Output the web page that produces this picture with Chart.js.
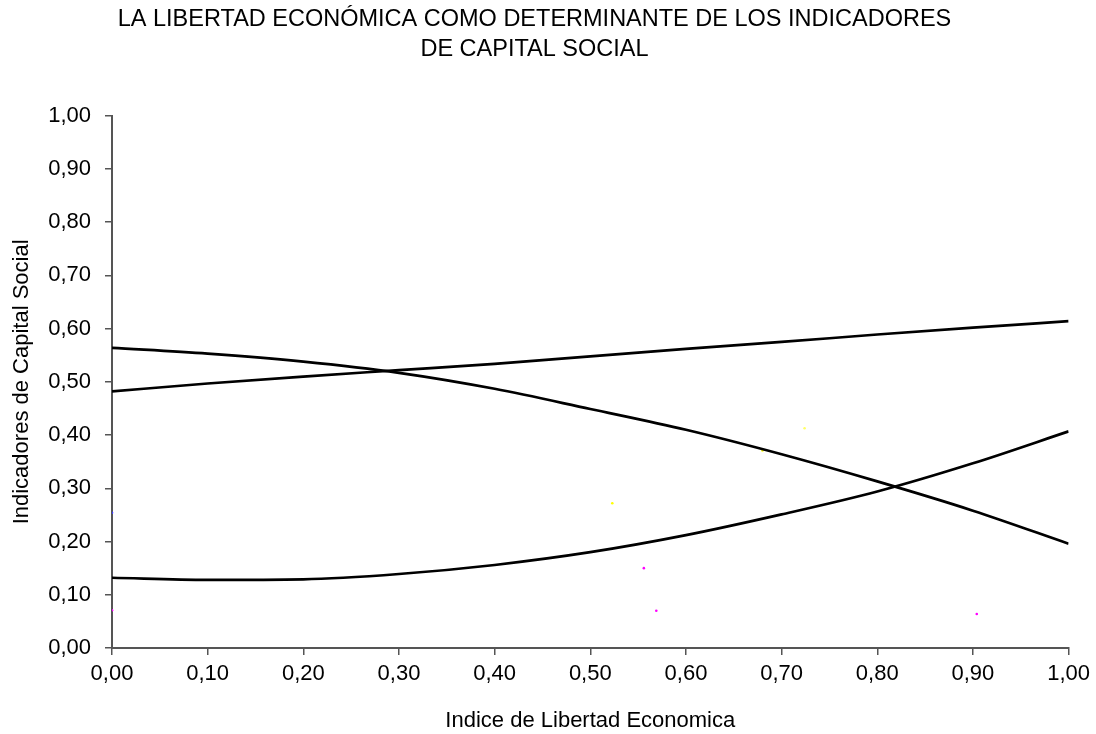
<!DOCTYPE html>
<html lang="es">
<head>
<meta charset="UTF-8">
<title>Libertad económica y capital social</title>
<script src="https://cdn.jsdelivr.net/npm/chart.js@4.4.0/dist/chart.umd.min.js"></script>
<style>
  html, body { margin: 0; padding: 0; background: #fff; }
  #wrap { width: 1096px; height: 734px; position: relative; }
</style>
</head>
<body>
<div id="wrap"><canvas id="chart"></canvas></div>
<script>
// Indice de Libertad Economica (eje x)
const xValues = [0, 0.1, 0.2, 0.3, 0.4, 0.5, 0.6, 0.7, 0.8, 0.9, 1.0];

// curvas de ajuste
const curvaAscendente = [0.482, 0.497, 0.510, 0.522, 0.534, 0.548, 0.562, 0.575, 0.589, 0.602, 0.614];
const curvaDescendente = [0.564, 0.553, 0.538, 0.517, 0.487, 0.449, 0.410, 0.364, 0.313, 0.258, 0.196];
const curvaInferior = [0.132, 0.128, 0.129, 0.139, 0.156, 0.180, 0.212, 0.251, 0.294, 0.347, 0.407];

// puntitos de color casi invisibles
const puntosX = [0.680, 0.523, 0.724, 0.556, 0.569, 0.904, 0.000, 0.000];
const puntosY = [0.371, 0.272, 0.413, 0.150, 0.070, 0.064, 0.254, 0.071];
const puntosColor = ['#ffff00', '#ffff00', '#ffff66', '#ff00ff', '#ff00ff', '#ff00ff', '#4040ff', '#ff00ff'];

const toXY = (ys) => ys.map((y, i) => ({ x: xValues[i], y }));
const fmt = (v) => v.toFixed(2).replace('.', ',');

const lineStyle = {
  borderColor: '#000',
  borderWidth: 2.7,
  pointRadius: 0,
  fill: false,
  cubicInterpolationMode: 'monotone',
  showLine: true
};

const axisColor = '#555';
const FONT = "'Liberation Sans', Arial, sans-serif";

new Chart(document.getElementById('chart'), {
  type: 'scatter',
  data: {
    datasets: [
      { ...lineStyle, data: toXY(curvaAscendente) },
      { ...lineStyle, data: toXY(curvaDescendente) },
      { ...lineStyle, data: toXY(curvaInferior) },
      {
        data: puntosX.map((x, i) => ({ x, y: puntosY[i] })),
        pointRadius: 1.3,
        pointBorderWidth: 0,
        backgroundColor: puntosColor,
        showLine: false
      }
    ]
  },
  options: {
    responsive: true,
    maintainAspectRatio: false,
    animation: false,
    layout: { padding: { left: 0, right: 27, top: 0, bottom: 0 } },
    plugins: {
      legend: { display: false },
      tooltip: { enabled: false },
      title: {
        display: true,
        text: ['LA LIBERTAD ECONÓMICA COMO DETERMINANTE DE LOS INDICADORES', 'DE CAPITAL SOCIAL'],
        color: '#000',
        font: { family: FONT, size: 23.5, weight: 'normal', lineHeight: 1.25 },
        padding: { top: 5, bottom: 52 }
      }
    },
    scales: {
      x: {
        type: 'linear',
        min: 0,
        max: 1,
        ticks: {
          stepSize: 0.1,
          color: '#000',
          font: { family: FONT, size: 22 },
          padding: 6,
          maxRotation: 0,
          callback: (v) => fmt(v)
        },
        grid: { drawOnChartArea: false, drawTicks: true, tickLength: 7, color: axisColor, lineWidth: 1.5 },
        border: { display: true, color: axisColor, width: 2 },
        title: {
          display: true,
          text: 'Indice de Libertad Economica',
          color: '#000',
          font: { family: FONT, size: 22 },
          padding: { top: 10, bottom: 0 }
        },
        afterFit: (scale) => { scale.height = 86; }
      },
      y: {
        type: 'linear',
        min: 0,
        max: 1,
        ticks: {
          stepSize: 0.1,
          color: '#000',
          font: { family: FONT, size: 22 },
          padding: 14,
          callback: (v) => fmt(v)
        },
        grid: { drawOnChartArea: false, drawTicks: true, tickLength: 7, color: axisColor, lineWidth: 1.5 },
        border: { display: true, color: axisColor, width: 2 },
        title: {
          display: true,
          text: 'Indicadores de Capital Social',
          color: '#000',
          font: { family: FONT, size: 22 },
          padding: { top: 9, bottom: 4 }
        },
        afterFit: (scale) => { scale.width = 112; }
      }
    }
  }
});
</script>
</body>
</html>
